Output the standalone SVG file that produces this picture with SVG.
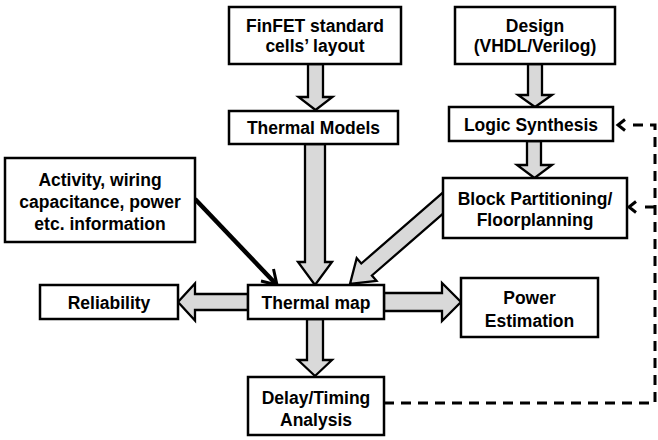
<svg xmlns="http://www.w3.org/2000/svg" width="658" height="440" viewBox="0 0 658 440">
<style>
.box{fill:#fff;stroke:#000;stroke-width:2.5}
.ba{fill:#d9d9d9;stroke:#000;stroke-width:2.3;stroke-linejoin:miter}
.t{font-family:"Liberation Sans",Arial,sans-serif;font-weight:bold;font-size:17.5px;text-anchor:middle;fill:#000}
.dash{fill:none;stroke:#000;stroke-width:3;stroke-dasharray:10 7}
.chev{fill:none;stroke:#000;stroke-width:3}
</style>
<rect width="658" height="440" fill="#fff"/>
<g id="connectors">
<polygon class="ba" points="308,64 323,64 323,97 332.5,97 315.5,110 298.5,97 308,97"/>
<polygon class="ba" points="305,144 325,144 325,262 332,262 315,285 298,262 305,262"/>
<polygon class="ba" points="307,319 323,319 323,360 332,360 315,376 298,360 307,360"/>
<polygon class="ba" points="248,294 195,294 195,283.5 178,302 195,320.5 195,310 248,310"/>
<polygon class="ba" points="384,293 442,293 442,283 461,302 442,321 442,311 384,311"/>
<polygon class="ba" points="528,64 542,64 542,95 552,95 535,107 518,95 528,95"/>
<polygon class="ba" points="527,141 541,141 541,165 552,165 534.5,178 517,165 527,165"/>
<polygon class="ba" points="449.7,186.6 361.3,263.5 356.7,258.2 350,284 376.5,280.8 371.9,275.5 460.3,198.6"/>
<line x1="195" y1="199" x2="275" y2="283" stroke="#000" stroke-width="4.5"/>
<polyline class="chev" points="261,281 277,285 273.5,269" stroke-width="4"/>
<path class="dash" d="M384,403 H655 V125 H626"/>
<path class="dash" d="M655,207 H638"/>
<polyline class="chev" points="625,119.5 618,125 625,130.5"/>
<polyline class="chev" points="636,201.5 629,207 636,212.5"/>
</g>
<g id="finfet">
<rect class="box" x="229" y="7" width="172" height="57"/>
<text class="t" x="315" y="32">FinFET standard</text>
<text class="t" x="315" y="52">cells’ layout</text>
</g>
<g id="thermal-models">
<rect class="box" x="229" y="111" width="169" height="33"/>
<text class="t" x="313.5" y="134">Thermal Models</text>
</g>
<g id="design">
<rect class="box" x="455" y="7" width="160" height="57"/>
<text class="t" x="535" y="32">Design</text>
<text class="t" x="535" y="52">(VHDL/Verilog)</text>
</g>
<g id="logic-synthesis">
<rect class="box" x="449" y="107" width="164" height="34"/>
<text class="t" x="531" y="130.5">Logic Synthesis</text>
</g>
<g id="block-partitioning">
<rect class="box" x="443" y="178" width="184" height="60"/>
<text class="t" x="535" y="205">Block Partitioning/</text>
<text class="t" x="535" y="226">Floorplanning</text>
</g>
<g id="activity">
<rect class="box" x="5" y="158" width="190" height="84"/>
<text class="t" x="100" y="186">Activity, wiring</text>
<text class="t" x="100" y="208">capacitance, power</text>
<text class="t" x="100" y="230">etc. information</text>
</g>
<g id="reliability">
<rect class="box" x="40" y="285" width="138" height="34"/>
<text class="t" x="109" y="308.5">Reliability</text>
</g>
<g id="thermal-map">
<rect class="box" x="248" y="285" width="136" height="34"/>
<text class="t" x="316" y="308.5">Thermal map</text>
</g>
<g id="power-estimation">
<rect class="box" x="461" y="278" width="137" height="59"/>
<text class="t" x="529.5" y="303.5">Power</text>
<text class="t" x="529.5" y="326.5">Estimation</text>
</g>
<g id="delay-timing">
<rect class="box" x="248" y="377" width="136" height="58"/>
<text class="t" x="316" y="403.5">Delay/Timing</text>
<text class="t" x="316" y="425.5">Analysis</text>
</g>
</svg>
